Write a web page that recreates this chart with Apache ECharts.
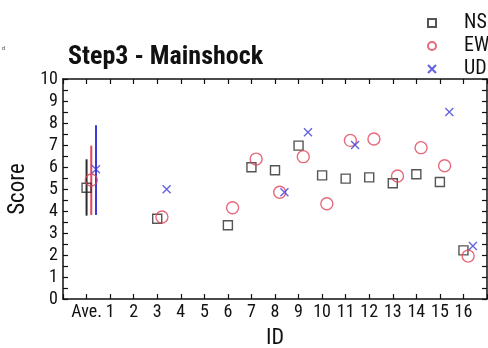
<!DOCTYPE html>
<html>
<head>
<meta charset="utf-8">
<script src="https://cdn.jsdelivr.net/npm/echarts@6/dist/echarts.min.js"></script>
<style>
  html, body { margin: 0; padding: 0; background: #fff; }
  #chart { width: 488px; height: 348px; }
</style>
</head>
<body>
<div id="chart"></div>
<script>
// Station IDs (0 = average) and scores per component
const nsIds = [0, 3, 6, 7, 8, 9, 10, 11, 12, 13, 14, 15, 16];
const nsScores = [5.06, 3.65, 3.35, 5.99, 5.85, 6.97, 5.62, 5.47, 5.53, 5.26, 5.67, 5.32, 2.21];
const ewIds = [0, 3, 6, 7, 8, 9, 10, 11, 12, 13, 14, 15, 16];
const ewScores = [5.41, 3.73, 4.15, 6.36, 4.85, 6.47, 4.33, 7.21, 7.27, 5.59, 6.88, 6.06, 1.95];
const udIds = [0, 3, 8, 9, 11, 15, 16];
const udScores = [5.90, 4.99, 4.85, 7.58, 7.00, 8.50, 2.41];

// Spread of the average score (low, high) per component
const nsRange = [3.79, 6.35];
const ewRange = [3.82, 6.97];
const udRange = [3.82, 7.90];

const xTickLabels = ['Ave.', '1', '2', '3', '4', '5', '6', '7', '8', '9', '10', '11', '12', '13', '14', '15', '16'];
const yTickLabels = ['0', '1', '2', '3', '4', '5', '6', '7', '8', '9', '10'];

const FONT = "'Roboto Condensed', 'DejaVu Sans Condensed', sans-serif";
const C_NS = '#2b2b2b';
const C_EW = '#e0455a';
const C_UD = '#3a3ad8';
// horizontal shift of each component beside its ID
const SHIFT = { NS: 0, EW: 0.2, UD: 0.4 };

const pts = (ids, vals, shift) => ids.map((id, i) => [id + shift, vals[i]]);

const chart = echarts.init(document.getElementById('chart'), null, { renderer: 'canvas' });

const axisLine = { show: true, onZero: false, lineStyle: { color: '#111', width: 1.5 } };
const tick = { show: true, inside: true, length: 5, lineStyle: { color: '#111', width: 1.2 } };
const minor = { show: true, splitNumber: 2, length: 5, lineStyle: { color: '#111', width: 1.2 } };

function errorBar(range, shift, color) {
  return {
    type: 'custom',
    xAxisIndex: 0, yAxisIndex: 0,
    silent: true,
    z: 1,
    data: [[shift, range[0], range[1]]],
    renderItem: function (params, api) {
      const lo = api.coord([api.value(0), api.value(1)]);
      const hi = api.coord([api.value(0), api.value(2)]);
      return {
        type: 'line',
        shape: { x1: lo[0], y1: lo[1], x2: hi[0], y2: hi[1] },
        style: { stroke: color, lineWidth: 2 }
      };
    }
  };
}

chart.setOption({
  animation: false,
  backgroundColor: '#fff',
  title: {
    text: 'Step3 - Mainshock',
    left: 63, top: 39,
    textStyle: { fontFamily: FONT, fontWeight: 'bold', fontSize: 26, color: '#111' }
  },
  graphic: [{
    type: 'text', left: 2, top: 45,
    style: { text: 'd', fontSize: 6, fill: '#444', fontFamily: FONT }
  }],
  legend: {
    orient: 'vertical',
    left: 422, top: 8,
    itemWidth: 8, itemHeight: 8,
    itemGap: 3,
    textStyle: { fontFamily: FONT, fontSize: 20, color: '#111', padding: [0, 0, 0, 23] },
    data: ['NS', 'EW', 'UD']
  },
  grid: { left: 63, right: 1, top: 79, bottom: 49, containLabel: false, outerBoundsMode: 'none' },
  xAxis: [{
    type: 'value', min: -1, max: 17, interval: 1,
    position: 'bottom',
    name: 'ID', nameLocation: 'middle', nameGap: 28,
    nameTextStyle: { fontFamily: FONT, fontSize: 22, color: '#111' },
    axisLine: axisLine, axisTick: tick, splitLine: { show: false },
    axisLabel: {
      fontFamily: FONT, fontSize: 18, color: '#111', margin: 4,
      showMinLabel: true, showMaxLabel: true,
      formatter: v => (v >= 0 && v < xTickLabels.length) ? xTickLabels[v] : ''
    }
  }, {
    type: 'value', min: -1, max: 17, interval: 1,
    position: 'top',
    axisLine: axisLine, axisTick: tick, splitLine: { show: false },
    axisLabel: { show: false }
  }],
  yAxis: [{
    type: 'value', min: 0, max: 10, interval: 1,
    position: 'left',
    name: 'Score', nameLocation: 'middle', nameGap: 27,
    nameTextStyle: { fontFamily: FONT, fontSize: 23, color: '#111' },
    axisLine: axisLine, axisTick: tick, minorTick: minor, splitLine: { show: false },
    axisLabel: {
      fontFamily: FONT, fontSize: 18, color: '#111', margin: 5,
      formatter: v => yTickLabels[v] !== undefined ? yTickLabels[v] : ''
    }
  }, {
    type: 'value', min: 0, max: 10, interval: 1,
    position: 'right',
    axisLine: axisLine, axisTick: tick, minorTick: minor, splitLine: { show: false },
    axisLabel: { show: false }
  }],
  series: [
    errorBar(nsRange, SHIFT.NS, C_NS),
    errorBar(ewRange, SHIFT.EW, C_EW),
    errorBar(udRange, SHIFT.UD, C_UD),
    {
      name: 'NS', type: 'scatter', z: 3,
      symbol: 'rect', symbolSize: 9,
      itemStyle: { color: 'rgba(255,255,255,0)', borderColor: C_NS, borderWidth: 1.4 },
      data: pts(nsIds, nsScores, SHIFT.NS)
    },
    {
      name: 'EW', type: 'scatter', z: 3,
      symbol: 'circle', symbolSize: 12,
      itemStyle: { color: 'rgba(255,255,255,0)', borderColor: C_EW, borderWidth: 1.4 },
      data: pts(ewIds, ewScores, SHIFT.EW)
    },
    {
      name: 'UD', type: 'scatter', z: 3,
      symbol: 'path://M0,0L10,10M10,0L0,10', symbolSize: 8,
      itemStyle: { color: 'rgba(255,255,255,0)', borderColor: C_UD, borderWidth: 1.3 },
      data: pts(udIds, udScores, SHIFT.UD)
    }
  ]
});
</script>
</body>
</html>
